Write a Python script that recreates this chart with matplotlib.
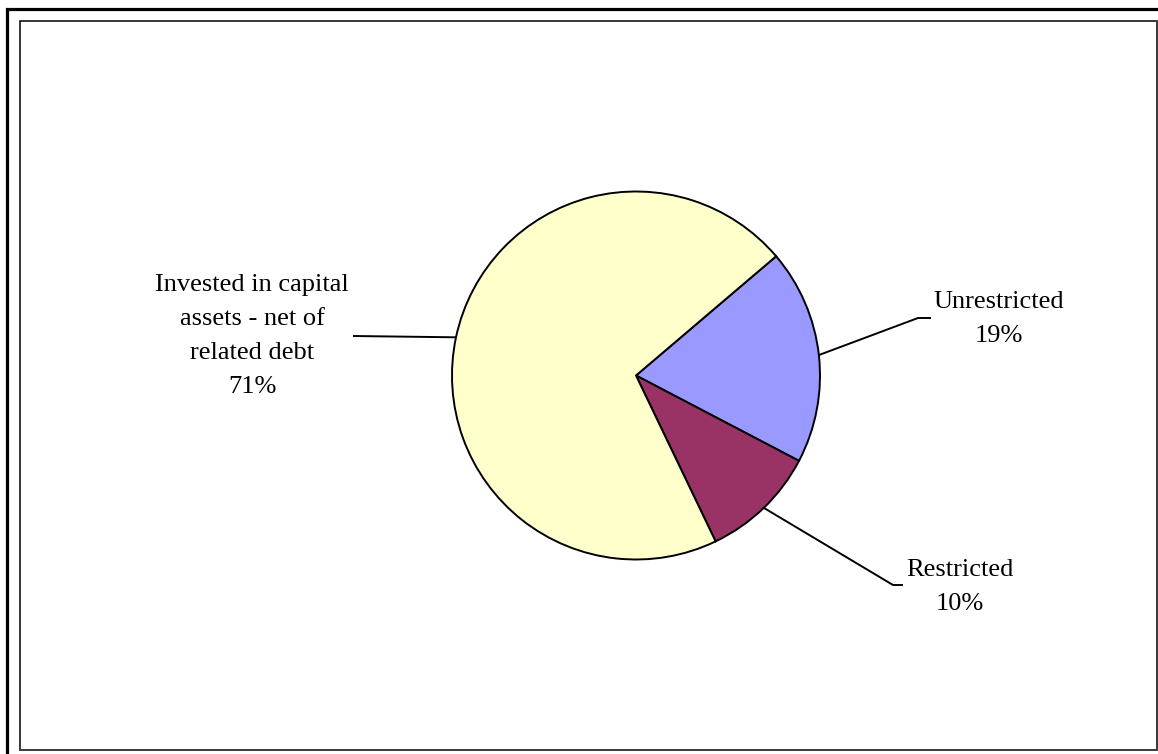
import numpy as np
import matplotlib.pyplot as plt
from matplotlib.patches import Rectangle

plt.rcParams["font.family"] = ["Liberation Serif", "DejaVu Serif"]

# slices, clockwise from the upper right
names = ["Unrestricted", "Restricted", "Invested in capital\nassets - net of\nrelated debt"]
shares = [18.9, 10.2, 70.9]
colors = ["#9999FF", "#993366", "#FFFFCC"]

W, H = 1158, 754

# label centres and leader elbows, in pixels from the top-left
text_xy = [(999, 319), (960, 587), (252, 336)]
elbow_xy = [(918, 318), (893, 585), (353, 336)]
tail_xy = [(931, 318), (903, 585), (353, 336)]

fig = plt.figure(figsize=(W / 100, H / 100), dpi=100)
ax = fig.add_axes([0, 0, 1, 1])

cx, cy, r = 636, H - 375.5, 184
wedges, _ = ax.pie(shares, colors=colors, startangle=40.4, counterclock=False,
                   center=(cx, cy), radius=r,
                   wedgeprops=dict(edgecolor="black", linewidth=1.4))
ax.set_xlim(0, W)
ax.set_ylim(0, H)
ax.set_axis_off()

for w, name, s, (tx, ty), (ex, ey), (hx, hy) in zip(wedges, names, shares, text_xy, elbow_xy, tail_xy):
    mid = np.deg2rad((w.theta1 + w.theta2) / 2)
    sx, sy = cx + r * np.cos(mid), cy + r * np.sin(mid)
    ax.plot([sx, ex, hx], [sy, H - ey, H - hy], color="black", lw=1.4, solid_capstyle="butt")
    ax.text(tx, H - ty, f"{name}\n{round(s)}%", ha="center", va="center",
            fontsize=19, linespacing=1.72, color="black")

# chart frames
ax.add_patch(Rectangle((7, -30), 1300, H - 9 + 30, fill=False, edgecolor="black", lw=2.3))
ax.add_patch(Rectangle((19.5, H - 749.5), 1137, 729, fill=False, edgecolor="black", lw=1.1))
ax.plot([19.5, 1156.8, 1156.8], [H - 750, H - 750, H - 20.5], color="#404040", lw=1.3)

fig.savefig("out.png", dpi=100)
